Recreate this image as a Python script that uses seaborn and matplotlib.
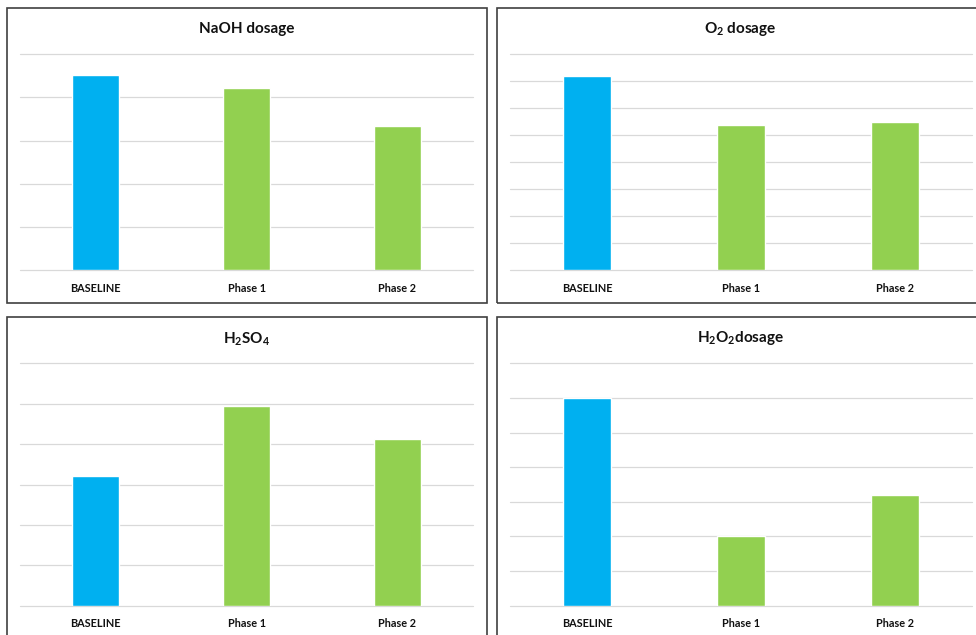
import matplotlib
matplotlib.use("Agg")
import matplotlib.pyplot as plt
from matplotlib.patches import Rectangle
import pandas as pd
import seaborn as sns

sns.set_theme(style="white")
plt.rcParams["font.family"] = ["Lato", "DejaVu Sans"]
plt.rcParams["mathtext.fontset"] = "custom"
plt.rcParams["mathtext.rm"] = "Lato:bold"
plt.rcParams["mathtext.bf"] = "Lato:bold"
plt.rcParams["mathtext.default"] = "rm"

# Data
stages = ["BASELINE", "Phase 1", "Phase 2"]
naoh_dosage = [4.51, 4.23, 3.33]
o2_dosage = [7.20, 5.38, 5.48]
h2so4_dosage = [3.20, 4.94, 4.13]
h2o2_dosage = [6.0, 2.0, 3.19]

titles = ["NaOH dosage", "O$_2$ dosage", "H$_2$SO$_4$", "H$_2$O$_2$dosage"]
series = [naoh_dosage, o2_dosage, h2so4_dosage, h2o2_dosage]
y_max = [5, 8, 6, 7]

palette = {"BASELINE": "#00B0F0", "Phase 1": "#92D050", "Phase 2": "#92D050"}

W, H = 976, 635
fig = plt.figure(figsize=(W / 100, H / 100), dpi=100)
fig.patch.set_facecolor("white")


def fx(px):
    return px / W


def fy(py):
    return 1 - py / H


# panel layout in pixels: (frame box, plot box, title centre)
panels = [
    dict(frame=(7, 8, 487, 302.7), plot=(20, 54.3, 473, 270), title=(247, 29)),
    dict(frame=(496.7, 8, 990, 302.7), plot=(510, 54.3, 972, 270), title=(740, 29)),
    dict(frame=(7, 317.3, 487, 650), plot=(20, 363.3, 473, 605.7), title=(247, 339)),
    dict(frame=(496.7, 317.3, 990, 650), plot=(510, 363.3, 972, 605.7), title=(740.5, 338)),
]

for p, title, vals, ymax in zip(panels, titles, series, y_max):
    x0, y0, x1, y1 = p["frame"]
    fig.patches.append(Rectangle((fx(x0), fy(y1)), fx(x1 - x0), (y1 - y0) / H,
                                 transform=fig.transFigure, fill=False,
                                 edgecolor="#404040", linewidth=1.2, zorder=0))
    px0, py0, px1, py1 = p["plot"]
    ax = fig.add_axes([fx(px0), fy(py1), fx(px1 - px0), (py1 - py0) / H])
    df = pd.DataFrame({"stage": stages, "value": vals})
    sns.barplot(data=df, x="stage", y="value", hue="stage", palette=palette,
                width=0.31, legend=False, ax=ax, saturation=1)
    ax.set_ylim(0, ymax)
    ax.set_xlim(-0.5, 2.5)
    ax.set_yticks(range(0, ymax + 1))
    ax.set_yticklabels([])
    ax.yaxis.grid(True, color="#D9D9D9", linewidth=0.9)
    for gl in ax.get_ygridlines():
        gl.set_clip_on(False)
    ax.set_axisbelow(True)
    for s in ax.spines.values():
        s.set_visible(False)
    ax.set_xlabel("")
    ax.set_ylabel("")
    ax.tick_params(axis="both", length=0)
    ax.tick_params(axis="x", pad=9, labelsize=7.8, labelcolor="#111111")
    for lbl in ax.get_xticklabels():
        lbl.set_fontweight("bold")
    ax.patch.set_alpha(0)
    tx, ty = p["title"]
    fig.text(fx(tx), fy(ty), title, ha="center", va="center",
             fontsize=11, fontweight="bold", color="#111111")

fig.savefig("out.png", dpi=100, facecolor="white")
